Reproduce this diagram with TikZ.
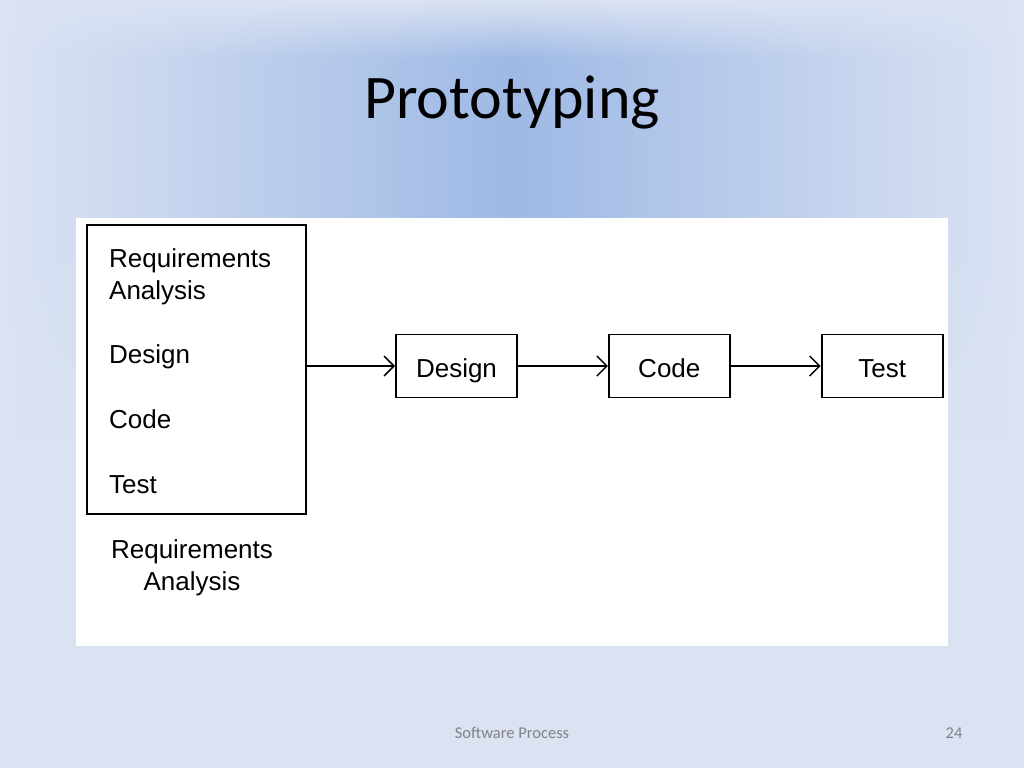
\documentclass[tikz,border=0pt]{standalone}
\usepackage{fontspec}
\setmainfont{Liberation Sans}
\newfontfamily\slidefont{Carlito}
\usetikzlibrary{positioning,arrows.meta,fadings}

\definecolor{slidepale}{RGB}{219,227,243}
\definecolor{slideblue}{RGB}{158,185,229}
\definecolor{footgray}{RGB}{130,130,130}

\tikzset{
  stagebox/.style={draw, line width=1.8pt, minimum width=121pt, minimum height=63pt, inner sep=0pt},
  flow/.style={line width=1.5pt, -{Straight Barb[length=10pt,width=20pt,line width=1.5pt]}},
  stagetext/.style={inner sep=0pt, font=\fontsize{26}{32}\selectfont}
}

\begin{document}
\begin{tikzpicture}[x=1pt,y=-1pt]
\useasboundingbox (0,0) rectangle (1024,768);

% slide background
\fill[slidepale] (0,0) rectangle (1024,768);
\shade[left color=slidepale, right color=slideblue] (0,0) rectangle (512,440);
\shade[left color=slideblue, right color=slidepale] (512,0) rectangle (1024,440);
\fill[slidepale, path fading=south] (0,0) rectangle (1024,60);
\fill[slidepale, path fading=north] (0,225) rectangle (1024,441);
\node[font=\slidefont\fontsize{62}{70}\selectfont, anchor=base] (title) at (512,118) {Prototyping};

% scanned figure
\fill[white] (76,218) rectangle (948,646);

\node[stagebox, minimum width=219pt, minimum height=289pt] (rbox) at (196.5,369.5) {};
\foreach \t/\y in {Requirements/267, Analysis/299, Design/363, Code/428, Test/493}{
  \node[stagetext, anchor=base west] (l\y) at (109,\y) {\t};
}
\node[stagetext, align=center] (rlabel) at (192,568) {Requirements\\Analysis};

\node[stagebox] (des) at (456.5,366) {};
\node[stagebox, right=90pt of des] (cod) {};
\node[stagebox, right=90pt of cod] (tst) {};
\node[stagetext, anchor=base] at ([yshift=-11pt]des.center) {Design};
\node[stagetext, anchor=base] at ([yshift=-11pt]cod.center) {Code};
\node[stagetext, anchor=base] at ([yshift=-11pt]tst.center) {Test};

\draw[flow] (rbox.east |- des) -- (des);
\draw[flow] (des) -- (cod);
\draw[flow] (cod) -- (tst);

% footer
\node[font=\slidefont\fontsize{16.5}{18}\selectfont, text=footgray] (foot) at (512,733) {Software Process};
\node[font=\slidefont\fontsize{16.5}{18}\selectfont, text=footgray] (page) at (954,733) {24};
\end{tikzpicture}
\end{document}
